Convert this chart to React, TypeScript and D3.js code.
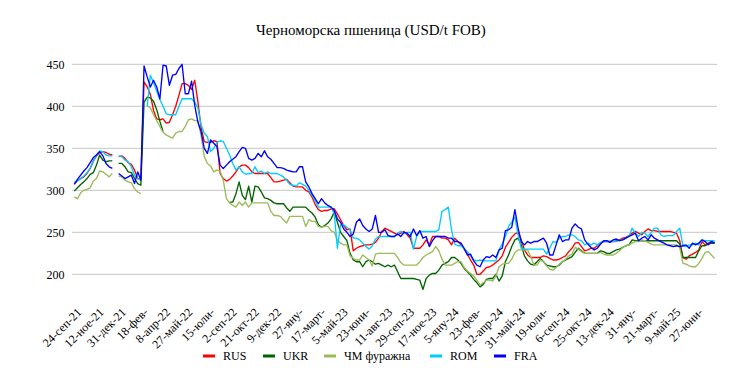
import React from "react";
import * as d3 from "d3";

const title = "Черноморска пшеница (USD/t FOB)";

const xTickLabels = [
  "24-сеп-21", "12-ное-21", "31-дек-21", "18-фев-", "8-апр-22", "27-май-22", "15-юли-",
  "2-сеп-22", "21-окт-22", "9-дек-22", "27-яну-", "17-март-", "5-май-23", "23-юни-",
  "11-авг-23", "29-сеп-23", "17-ное-23", "5-яну-24", "23-фев-", "12-апр-24", "31-май-24",
  "19-юли-", "6-сеп-24", "25-окт-24", "13-дек-24", "31-яну-", "21-март-", "9-май-25", "27-юни-",
];
const xTickStep = 7;

const yTicks = [200, 250, 300, 350, 400, 450];

const _ = null;

const RUS = [
  308, 311, 314, 316, 320, 326, 335, 341, 345, 346,
  345, 343, 342, _, 340, 341, 338, 333, 331, 324,
  314, 313, 429, 423, 414, 395, 385, 384, 385, 380,
  381, 390, 400, 413, 427, 427, 425, 420, 431, 405,
  375, 358, 357, 357, 359, 358, 320, 314, 311, 313,
  317, 322, 328, 330, 330, 327, 322, 320, 320, 320,
  320, 320, 315, 310, 310, 311, 312, 313, 309, 305,
  304, 304, 304, 300, 298, 292, 283, 277, 275, 276,
  276, 278, 278, 272, 265, 258, 253, 254, 228, 231,
  233, 234, 235, 235, 236, 238, 243, 251, 255, 253,
  251, 249, 247, 249, 251, 247, 243, 231, 231, 231,
  235, 241, 235, 245, 245, 245, 243, 243, 241, 235,
  243, 239, 235, 230, 224, 217, 211, 200, 200, 204,
  208, 209, 211, 214, 217, 222, 232, 238, 244, 248,
  250, 241, 229, 223, 220, 220, 220, 220, 222, 221,
  219, 217, 217, 218, 220, 222, 227, 231, 237, 238,
  233, 228, 229, 231, 231, 234, 237, 239, 239, 239,
  239, 240, 241, 243, 244, 246, 249, 251, 249, 247,
  251, 254, 252, 252, 251, 251, 251, 251, 251, 250,
  249, 240, 220, 218, 222, 224, 226, 229, 239, 235,
  237, 239, 238,
];

const UKR = [
  299, 303, 307, 310, 314, 319, 321, 330, 342, 336,
  334, 335, 335, _, 332, 332, 328, 322, 321, 314,
  308, 306, 405, 411, 410, 406, 396, 382, 370, _,
  _, _, _, _, _, _, _, _, _, _,
  _, _, _, _, _, _, _, _, _, 286,
  286, 296, 310, 294, 289, 305, 286, 305, 304, 298,
  291, 290, 288, 285, 284, 284, 284, 279, 275, 280,
  280, 280, 280, 280, 276, 273, 268, 259, 256, 258,
  261, 266, 274, 262, 250, 245, 240, 225, 217, 215,
  215, 209, 215, 217, 215, 212, 213, 211, 209, 211,
  209, 211, 203, 195, 195, 195, 195, 195, 194, 193,
  182, 195, 199, 201, 201, 205, 211, 213, 215, 220,
  220, 217, 213, 207, 203, 199, 194, 190, 185, 188,
  194, 195, 195, 200, 192, 198, 215, 223, 233, 241,
  243, 235, 222, 216, 212, 211, 215, 219, 215, 211,
  210, 209, 209, 211, 215, 217, 219, 221, 226, 231,
  228, 225, 225, 225, 225, 225, 228, 227, 225, 225,
  227, 229, 230, 232, 234, 235, 241, 240, 240, 240,
  240, 240, 240, 240, 240, 240, 240, 240, 240, 240,
  240, 236, 220, 220, 220, 220, 220, 228, 234, 234,
  236, 237, 237,
];

const CHM = [
  292, 290, 297, 300, 301, 303, 311, 314, 323, 322,
  319, 316, 320, _, 317, 316, 312, 310, 309, 302,
  298, 296, _, 401, 398, 390, 383, 376, 369, 366,
  364, 362, 368, 370, 370, 376, 384, 385, 383, 383,
  365, 340, 332, 329, 322, 324, 323, 312, 290, 285,
  282, 280, 286, 282, 286, 280, 285, 285, 285, 285,
  285, 285, 275, 270, 270, 269, 265, 261, 269, 269,
  269, 269, 269, 257, 265, 263, 263, 257, 256, 257,
  257, 252, 250, 241, 237, 235, 235, 222, 219, 217,
  217, 223, 220, 217, 210, 224, 225, 225, 225, 225,
  225, 225, 220, 214, 211, 211, 211, 211, 211, 215,
  220, 223, 225, 227, 233, 228, 218, 211, 211, 211,
  213, 215, 215, 208, 204, 201, 198, 193, 187, 190,
  193, 193, 192, 198, 209, 212, 213, 213, 218, 226,
  229, 229, 229, 229, 221, 211, 211, 217, 215, 210,
  206, 205, 208, 212, 215, 218, 222, 224, 232, 230,
  227, 225, 225, 225, 225, 225, 226, 224, 223, 223,
  223, 225, 228, 232, 234, 235, 237, 239, 239, 241,
  240, 238, 236, 235, 235, 235, 235, 235, 235, 235,
  235, 232, 213, 212, 210, 209, 209, 213, 219, 226,
  227, 223, 219,
];

const ROM = [
  310, 311, 314, 317, 321, 326, 334, 342, 347, 346,
  342, 341, 341, _, 341, 340, 336, 334, 328, 318,
  314, 312, _, 400, 437, 428, 418, 408, 400, 391,
  390, 390, 390, 400, 409, 409, 409, 409, 405, 398,
  378, 368, 364, 346, 350, 357, 359, 358, 350, 342,
  332, 324, 328, 322, 319, 320, 320, 328, 321, 323,
  320, 322, 320, 320, 320, 318, 316, 312, 307, 306,
  305, 309, 307, 305, 300, 294, 288, 280, 280, 280,
  280, 280, 272, 231, 259, 259, 256, 253, 243, 243,
  241, 237, 233, 230, 234, 242, 245, 245, 245, 245,
  245, 245, 249, 251, 249, 250, 250, 230, 245, 251,
  251, 251, 251, 251, 251, 253, 275, 277, 280, 253,
  236, 234, 234, 230, 227, 222, 217, 216, 217, 216,
  216, 216, 216, 216, 229, 236, 245, 257, 262, 268,
  247, 231, 230, 230, 230, 230, 230, 230, 230, 224,
  231, 239, 238, 243, 245, 245, 247, 247, 245, 241,
  240, 235, 237, 235, 237, 235, 238, 239, 239, 239,
  239, 239, 240, 241, 243, 245, 255, 249, 245, 250,
  249, 245, 250, 255, 255, 247, 245, 246, 246, 246,
  251, 255, 234, 233, 235, 235, 237, 235, 241, 240,
  240, 240, 240,
];

const FRA = [
  307, 313, 318, 323, 327, 333, 339, 342, 346, 341,
  332, 328, 326, _, 320, 317, 314, 316, 318, 308,
  322, 312, 448, 435, 423, 431, 423, 409, 449, 448,
  425, 437, 438, 445, 450, 415, 415, 430, 401, 381,
  370, 350, 344, 360, 356, 352, 330, 326, 330, 334,
  337, 340, 346, 351, 350, 338, 336, 338, 344, 340,
  347, 340, 337, 332, 327, 327, 326, 324, 323, 322,
  322, 328, 328, 310, 304, 296, 290, 284, 290, 285,
  282, 280, 276, 266, 262, 254, 250, 245, 248, 262,
  266, 258, 254, 251, 254, 270, 250, 250, 253, 246,
  245, 245, 248, 245, 250, 249, 245, 254, 246, 252,
  243, 245, 233, 240, 245, 245, 245, 245, 243, 243,
  239, 239, 237, 231, 223, 224, 216, 211, 209, 217,
  221, 220, 223, 220, 229, 231, 252, 253, 256, 277,
  255, 239, 235, 239, 237, 239, 239, 241, 243, 237,
  223, 223, 235, 247, 239, 241, 241, 255, 260, 256,
  254, 241, 236, 232, 229, 231, 236, 240, 240, 238,
  241, 242, 240, 241, 243, 245, 247, 249, 240, 243,
  245, 241, 247, 243, 241, 239, 237, 235, 234, 233,
  234, 233, 234, 235, 231, 237, 235, 237, 241, 239,
  235, 239, 237,
];

const seriesNames = ["RUS", "UKR", "ЧМ фуражна", "ROM", "FRA"];
const seriesData = [RUS, UKR, CHM, ROM, FRA];
const seriesColors = ["#FF0000", "#006400", "#9BBB59", "#00CCFF", "#0000FF"];

const W = 742;
const H = 381;
const FONT = "'Liberation Serif', 'Times New Roman', serif";

export default function App() {
  const n = FRA.length;
  const x = d3.scaleLinear().domain([0, n - 1]).range([74.3, 714.6]);
  const y = d3.scaleLinear().domain([200, 450]).range([274.3, 64.3]);
  const line = d3
    .line<number | null>()
    .defined((d) => d != null)
    .x((_d, i) => x(i))
    .y((d) => y(d as number));

  const legendSampleX = [203, 263, 324, 430, 494];
  const legendY = 356;

  return (
    <svg
      width={W}
      height={H}
      viewBox={`0 0 ${W} ${H}`}
      style={{ position: "absolute", left: 0, top: 0, background: "#fff", fontFamily: FONT }}
    >
      <rect x={0} y={0} width={W} height={H} fill="#fff" />
      <text x={371} y={35} textAnchor="middle" fontFamily={FONT} fontSize={15} fill="#000">
        {title}
      </text>
      {yTicks.map((t) => (
        <g key={t}>
          <line x1={72} x2={717} y1={y(t)} y2={y(t)} stroke="#C6C6C6" strokeWidth={1} />
          <text x={64.5} y={y(t)} dy="0.35em" textAnchor="end" fontFamily={FONT} fontSize={12} fill="#000">
            {t}
          </text>
        </g>
      ))}
      {seriesData.map((s, k) => (
        <path
          key={seriesNames[k]}
          d={line(s) || ""}
          fill="none"
          stroke={seriesColors[k]}
          strokeWidth={1.35}
          strokeLinejoin="round"
        />
      ))}
      {xTickLabels.map((lab, k) => {
        const px = x(k * xTickStep) + 5;
        const py = 310;
        return (
          <text
            key={lab + k}
            transform={`translate(${px},${py}) rotate(-45)`}
            textAnchor="end"
            dy="0.35em"
            fontFamily={FONT}
            fontSize={12}
            fill="#000"
          >
            {lab}
          </text>
        );
      })}
      {seriesNames.map((nm, k) => (
        <g key={nm}>
          <rect x={legendSampleX[k]} y={legendY - 1.5} width={12} height={3} fill={seriesColors[k]} />
          <text x={legendSampleX[k] + 20} y={legendY} dy="0.35em" fontFamily={FONT} fontSize={12} fill="#000">
            {nm}
          </text>
        </g>
      ))}
    </svg>
  );
}
